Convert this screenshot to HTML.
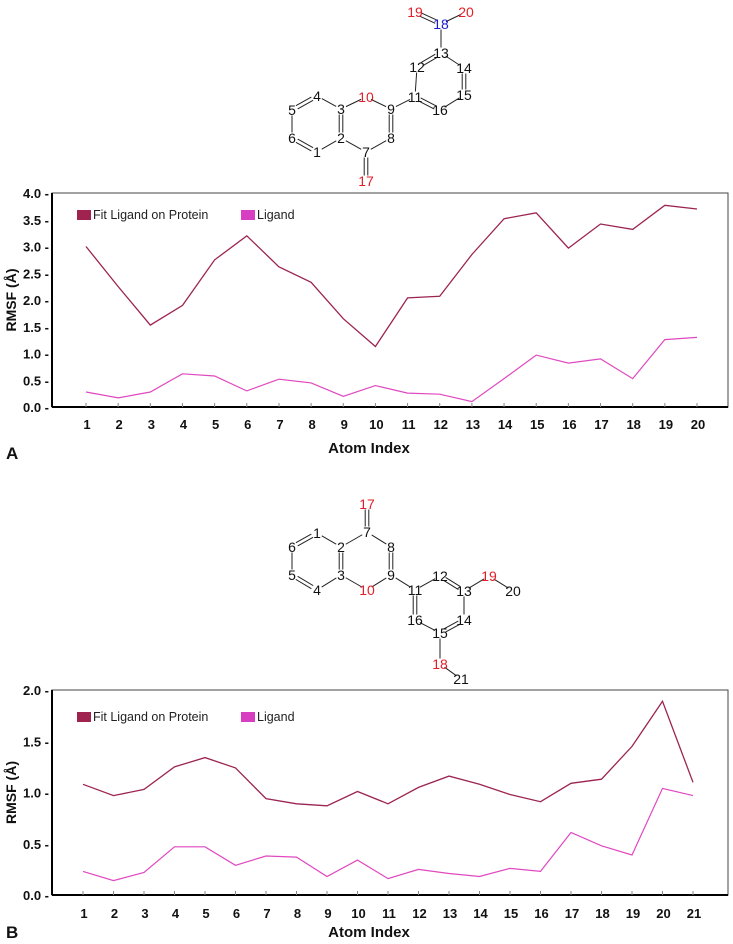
<!DOCTYPE html>
<html><head><meta charset="utf-8"><style>
html,body{margin:0;padding:0;background:#fff;}
svg{display:block;font-family:"Liberation Sans",sans-serif;}
</style></head><body>
<svg id="svg" width="733" height="944" viewBox="0 0 733 944"></svg>
<script>
const catsA = [1,2,3,4,5,6,7,8,9,10,11,12,13,14,15,16,17,18,19,20];
const fitA = [3.0,2.25,1.53,1.9,2.75,3.2,2.62,2.33,1.65,1.13,2.04,2.07,2.85,3.52,3.63,2.97,3.42,3.32,3.77,3.7];
const ligA = [0.28,0.17,0.28,0.62,0.58,0.3,0.52,0.45,0.2,0.4,0.26,0.24,0.1,0.53,0.97,0.82,0.9,0.53,1.26,1.3];
const ticksA = [0.0,0.5,1.0,1.5,2.0,2.5,3.0,3.5,4.0];
const catsB = [1,2,3,4,5,6,7,8,9,10,11,12,13,14,15,16,17,18,19,20,21];
const fitB = [1.08,0.97,1.03,1.25,1.34,1.24,0.94,0.89,0.87,1.01,0.89,1.05,1.16,1.08,0.98,0.91,1.09,1.13,1.45,1.89,1.10];
const ligB = [0.23,0.14,0.22,0.47,0.47,0.29,0.38,0.37,0.18,0.34,0.16,0.25,0.21,0.18,0.26,0.23,0.61,0.48,0.39,1.04,0.97];
const ticksB = [0.0,0.5,1.0,1.5,2.0];

const NS = "http://www.w3.org/2000/svg";
const svg = document.getElementById('svg');
function mk(tag, attrs, parent){
  const e = document.createElementNS(NS, tag);
  for (const k in attrs) e.setAttribute(k, attrs[k]);
  (parent||svg).appendChild(e);
  return e;
}
function txt(s, x, y, attrs, parent){
  const t = mk('text', Object.assign({x:x, y:y}, attrs), parent);
  t.textContent = s;
  return t;
}

function chart(id, cats, fit, lig, ticks, ymax, box, xFirst, xLast, letter){
  const g = mk('g', {});
  
  
  const frame = mk('rect', {x:box.l, y:box.t, width:box.r-box.l, height:box.b-box.t, fill:'none', stroke:'#444', 'stroke-width':1}, g);
  
  
  const xs = i => xFirst + (xLast - xFirst) * i / (cats.length - 1);
  const ys = v => box.b - (box.b - box.t) * v / ymax;
  mk('line', {x1:box.l, y1:box.t, x2:box.l, y2:box.b, stroke:'#000', 'stroke-width':2}, g);
  mk('line', {x1:box.l, y1:box.b, x2:box.r, y2:box.b, stroke:'#000', 'stroke-width':2}, g);
  ticks.forEach(v => {
    const y = ys(v);
    const t = txt(v.toFixed(1) + ' -', box.l - 3, y + 5, {'text-anchor':'end', 'font-size':13, 'font-weight':'bold', fill:'#111'}, g);
    
    
  });
  cats.forEach((c, i) => {
    mk('line', {x1:xs(i), y1:box.b-4, x2:xs(i), y2:box.b, stroke:'#888', 'stroke-width':1}, g);
    const t = txt(String(c), xs(i) + 1, box.b + box.lab, {'text-anchor':'middle', 'font-size':13, 'font-weight':'bold', fill:'#111'}, g);
    
    
  });
  const pts = arr => arr.map((v, i) => xs(i).toFixed(1) + ',' + ys(v).toFixed(1)).join(' ');
  const l1 = mk('polyline', {points:pts(fit), fill:'none', stroke:'#9c2452', 'stroke-width':1.3}, g);
  
  
  const l2 = mk('polyline', {points:pts(lig), fill:'none', stroke:'#e048c0', 'stroke-width':1.2}, g);
  
  
  const lg = mk('g', {}, g);
  
  
  const ly = box.t + box.ly;
  mk('rect', {x:77, y:ly-9, width:14, height:10, fill:'#a0234f'}, lg);
  const a = txt('Fit Ligand on Protein', 93, ly, {'font-size':12.5, fill:'#222'}, lg);
  
  
  mk('rect', {x:241, y:ly-9, width:14, height:10, fill:'#d83ec2'}, lg);
  const b = txt('Ligand', 257, ly, {'font-size':12.5, fill:'#222'}, lg);
  
  
  const yt = txt('RMSF (Å)', 0, 0, {'font-size':14, 'font-weight':'bold', 'text-anchor':'middle', transform:'translate(16,' + ((box.t+box.b)/2) + ') rotate(-90)', fill:'#111'}, g);
  
  
  const xt = txt('Atom Index', 369, box.titleY, {'font-size':15, 'font-weight':'bold', 'text-anchor':'middle', fill:'#111'}, g);
  
  
  const pl = txt(letter, 6, box.letterY, {'font-size':17, 'font-weight':'bold', fill:'#111'}, g);
  
  
}

chart('chart-a', catsA, fitA, ligA, ticksA, 4.0, {l:52, r:728, t:193, b:407, ly:26, lab:22, titleY:453, letterY:459}, 86, 697, 'A');
chart('chart-b', catsB, fitB, ligB, ticksB, 2.0, {l:52, r:728, t:690, b:895, ly:31, lab:23, titleY:937, letterY:938}, 83, 693, 'B');

function molecule(id, atoms, bonds){
  const g = mk('g', {});
  
  
  bonds.forEach(([a, b, d]) => {
    const A = atoms[a], B = atoms[b];
    const dx = B[0]-A[0], dy = B[1]-A[1], L = Math.hypot(dx, dy);
    const ux = dx/L, uy = dy/L, s = 5.5;
    const x1 = A[0]+ux*s, y1 = A[1]+uy*s, x2 = B[0]-ux*s, y2 = B[1]-uy*s;
    if (d) {
      const nx = -uy*1.8, ny = ux*1.8;
      mk('line', {x1:x1+nx, y1:y1+ny, x2:x2+nx, y2:y2+ny, stroke:'#222', 'stroke-width':1}, g);
      mk('line', {x1:x1-nx, y1:y1-ny, x2:x2-nx, y2:y2-ny, stroke:'#222', 'stroke-width':1}, g);
    } else {
      mk('line', {x1:x1, y1:y1, x2:x2, y2:y2, stroke:'#222', 'stroke-width':1}, g);
    }
  });
  for (const k in atoms) {
    const [x, y, c] = atoms[k];
    const t = txt(k, x, y + 5, {'font-size':14, 'text-anchor':'middle', fill: c || '#111'}, g);
    
    
  }
}
const R = '#e3202a';
molecule('molecule-a', {
  '19':[415,12,R], '18':[441,24,'#1c1ccc'], '20':[466,12,R], '13':[441,53], '12':[417,67], '14':[464,68],
  '11':[415,97], '15':[464,95], '16':[440,110], '10':[366,97,R], '9':[391,109], '3':[341,109],
  '4':[317,96], '5':[292,110], '6':[292,138], '2':[341,138], '1':[317,152], '8':[391,138],
  '7':[366,152], '17':[366,181,R]
}, [['19','18',1],['18','20'],['18','13'],['13','12',1],['13','14'],['14','15',1],['15','16'],['16','11',1],['11','12'],
    ['11','9'],['9','10'],['10','3'],['3','4'],['4','5',1],['5','6'],['6','1',1],['1','2'],['2','3',1],['2','7'],['7','8'],['8','9',1],['7','17',1]]);
molecule('molecule-b', {
  '17':[367,504,R], '7':[367,532], '1':[317,533], '6':[292,547], '2':[341,547], '8':[391,547],
  '5':[292,575], '3':[341,575], '9':[391,575], '4':[317,590], '10':[367,590,R], '11':[415,590],
  '12':[440,576], '13':[464,591], '19':[489,576,R], '20':[513,591], '16':[415,620], '14':[464,620],
  '15':[440,633], '18':[440,664,R], '21':[461,679]
}, [['17','7',1],['7','2'],['7','8'],['2','1'],['1','6',1],['6','5'],['5','4',1],['4','3'],['3','2',1],['3','10'],['10','9'],['9','8',1],
    ['9','11'],['11','12'],['12','13',1],['13','19'],['19','20'],['13','14'],['14','15',1],['15','16'],['16','11',1],['15','18'],['18','21']]);
</script>
</body></html>
